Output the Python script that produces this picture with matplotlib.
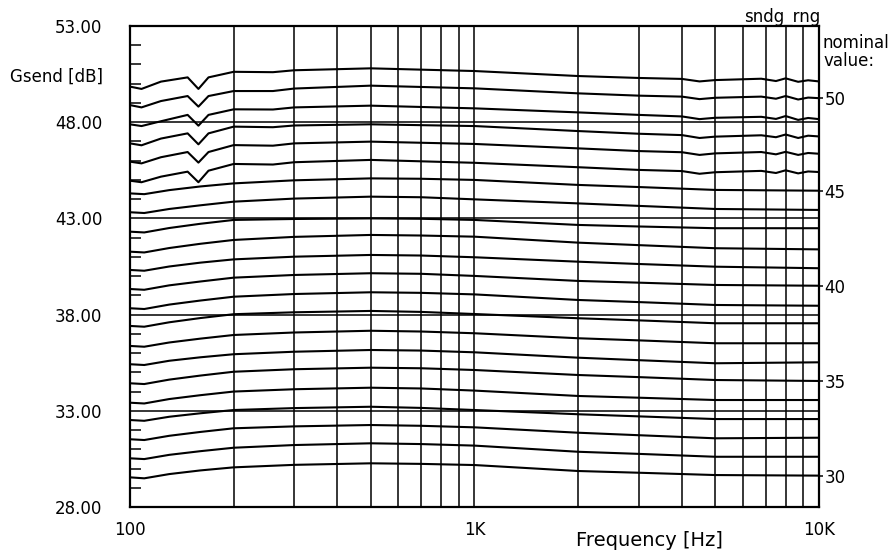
import numpy as np
import matplotlib
matplotlib.use("Agg")
import matplotlib.pyplot as plt
from matplotlib.ticker import FixedLocator, NullFormatter

# curves with the dip near 158 Hz (nominal 51 .. 46)
freq_dip = [100, 108, 123, 147, 158, 169, 200, 260, 300, 500, 1000, 2000,
            3000, 4000, 4500, 5000, 6800, 7500, 8000, 8700, 9300, 10000]
nominal_dip = [51, 50, 49, 48, 47, 46]
gsend_dip = [
    [49.85, 49.73, 50.11, 50.33, 49.73, 50.33, 50.62, 50.60, 50.70, 50.80, 50.66, 50.40,
     50.30, 50.25, 50.12, 50.19, 50.26, 50.14, 50.28, 50.10, 50.18, 50.12],
    [48.89, 48.77, 49.10, 49.36, 48.81, 49.36, 49.62, 49.62, 49.75, 49.90, 49.76, 49.50,
     49.38, 49.33, 49.20, 49.27, 49.33, 49.22, 49.36, 49.18, 49.28, 49.25],
    [47.89, 47.80, 48.05, 48.38, 47.82, 48.38, 48.67, 48.66, 48.77, 48.86, 48.72, 48.51,
     48.38, 48.30, 48.16, 48.23, 48.28, 48.17, 48.32, 48.12, 48.22, 48.16],
    [46.90, 46.80, 47.15, 47.42, 46.85, 47.42, 47.77, 47.74, 47.83, 47.89, 47.80, 47.54,
     47.40, 47.33, 47.18, 47.25, 47.32, 47.22, 47.36, 47.18, 47.30, 47.26],
    [45.95, 45.86, 46.18, 46.45, 45.90, 46.45, 46.81, 46.78, 46.90, 46.99, 46.87, 46.64,
     46.50, 46.44, 46.30, 46.38, 46.45, 46.33, 46.46, 46.30, 46.40, 46.36],
    [44.96, 44.88, 45.17, 45.43, 44.88, 45.48, 45.83, 45.80, 45.92, 46.04, 45.89, 45.66,
     45.52, 45.46, 45.32, 45.40, 45.47, 45.36, 45.50, 45.34, 45.44, 45.41],
]

# smooth curves (nominal 45 .. 30)
freq = [100, 110, 130, 160, 200, 300, 500, 700, 1000, 2000, 3000, 5000, 10000]
nominal = list(range(45, 29, -1))
gsend = [
    [44.30, 44.26, 44.47, 44.66, 44.82, 44.98, 45.08, 45.06, 45.00, 44.74, 44.63, 44.48, 44.44],
    [43.32, 43.28, 43.49, 43.68, 43.87, 44.03, 44.13, 44.10, 43.99, 43.78, 43.65, 43.49, 43.44],
    [42.31, 42.27, 42.50, 42.72, 42.92, 42.97, 43.00, 42.98, 42.92, 42.66, 42.58, 42.49, 42.49],
    [41.27, 41.23, 41.46, 41.68, 41.88, 42.04, 42.14, 42.11, 42.05, 41.74, 41.61, 41.45, 41.39],
    [40.32, 40.28, 40.50, 40.70, 40.87, 41.01, 41.10, 41.07, 40.98, 40.75, 40.63, 40.49, 40.41],
    [39.33, 39.29, 39.52, 39.72, 39.92, 40.06, 40.15, 40.12, 40.01, 39.75, 39.66, 39.54, 39.50],
    [38.33, 38.29, 38.52, 38.73, 38.93, 39.07, 39.16, 39.13, 39.05, 38.76, 38.65, 38.50, 38.46],
    [37.41, 37.37, 37.60, 37.82, 38.02, 38.12, 38.19, 38.14, 38.03, 37.81, 37.70, 37.55, 37.55],
    [36.37, 36.33, 36.55, 36.75, 36.94, 37.07, 37.16, 37.12, 37.03, 36.77, 36.66, 36.51, 36.51],
    [35.42, 35.38, 35.60, 35.78, 35.94, 36.07, 36.16, 36.13, 36.04, 35.76, 35.63, 35.47, 35.52],
    [34.43, 34.39, 34.62, 34.83, 35.03, 35.16, 35.24, 35.21, 35.12, 34.86, 34.75, 34.60, 34.55],
    [33.42, 33.38, 33.61, 33.81, 34.00, 34.12, 34.20, 34.16, 34.05, 33.77, 33.68, 33.56, 33.56],
    [32.52, 32.48, 32.69, 32.87, 33.04, 33.14, 33.21, 33.15, 33.04, 32.82, 32.71, 32.57, 32.57],
    [31.52, 31.48, 31.70, 31.90, 32.09, 32.19, 32.26, 32.22, 32.14, 31.86, 31.73, 31.57, 31.60],
    [30.53, 30.49, 30.71, 30.90, 31.08, 31.22, 31.31, 31.27, 31.19, 30.87, 30.76, 30.61, 30.61],
    [29.54, 29.49, 29.71, 29.90, 30.06, 30.19, 30.27, 30.24, 30.18, 29.87, 29.78, 29.66, 29.63],
]

y_ticks = [28, 33, 38, 43, 48, 53]
x_ticks = [100, 1000, 10000]
x_labels = ["100", "1K", "10K"]
right_labels = [50, 45, 40, 35, 30]

plt.rcParams["font.family"] = ["DejaVu Sans"]
plt.rcParams["font.size"] = 12

fig = plt.figure(figsize=(8.94, 5.57), dpi=100)
ax = fig.add_axes([0.1454, 0.0898, 0.7707, 0.8635])

for row in gsend_dip:
    ax.plot(freq_dip, row, color="black", lw=1.5)
for row in gsend:
    ax.plot(freq, row, color="black", lw=1.5)

ax.set_xscale("log")
ax.set_xlim(100, 10000)
ax.set_ylim(28, 53)

ax.set_xticks(x_ticks, x_labels)
ax.xaxis.set_minor_locator(FixedLocator(
    [m * d for d in (100, 1000) for m in range(2, 10)]))
ax.xaxis.set_minor_formatter(NullFormatter())
ax.tick_params(axis="x", which="both", length=0, pad=10)
ax.grid(True, axis="x", which="both", color="black", lw=1.1)

ax.set_yticks(y_ticks, ["%.2f" % v for v in y_ticks])
ax.yaxis.set_minor_locator(FixedLocator(np.arange(28, 54, 1)))
ax.tick_params(axis="y", which="major", length=0, pad=20)
ax.tick_params(axis="y", which="minor", direction="in", length=8, width=1.1)
ax.grid(True, axis="y", which="major", color="black", lw=1.1)

for s in ax.spines.values():
    s.set_linewidth(1.6)

# nominal values marked at the right end of the curves
end_vals = {n: r[-1] for n, r in zip(nominal_dip + nominal, gsend_dip + gsend)}
ax2 = ax.twinx()
ax2.set_ylim(28, 53)
ax2.set_yticks([end_vals[n] for n in right_labels], [str(n) for n in right_labels])
ax2.tick_params(axis="y", direction="out", length=3, width=1.1, pad=1)
for s in ax2.spines.values():
    s.set_visible(False)

fig.text(103 / 894, 1 - 77 / 557, "Gsend [dB]", ha="right", va="center")
fig.text(820 / 894, 1 - 17 / 557, "sndg_rng", ha="right", va="center")
fig.text(823 / 894, 1 - 52 / 557, "nominal\nvalue:", ha="left", va="center",
         linespacing=1.0)
fig.text(649 / 894, 1 - 541 / 557, "Frequency [Hz]", ha="center", va="center",
         fontsize=14)

fig.savefig("out.png", dpi=100, facecolor="white")
